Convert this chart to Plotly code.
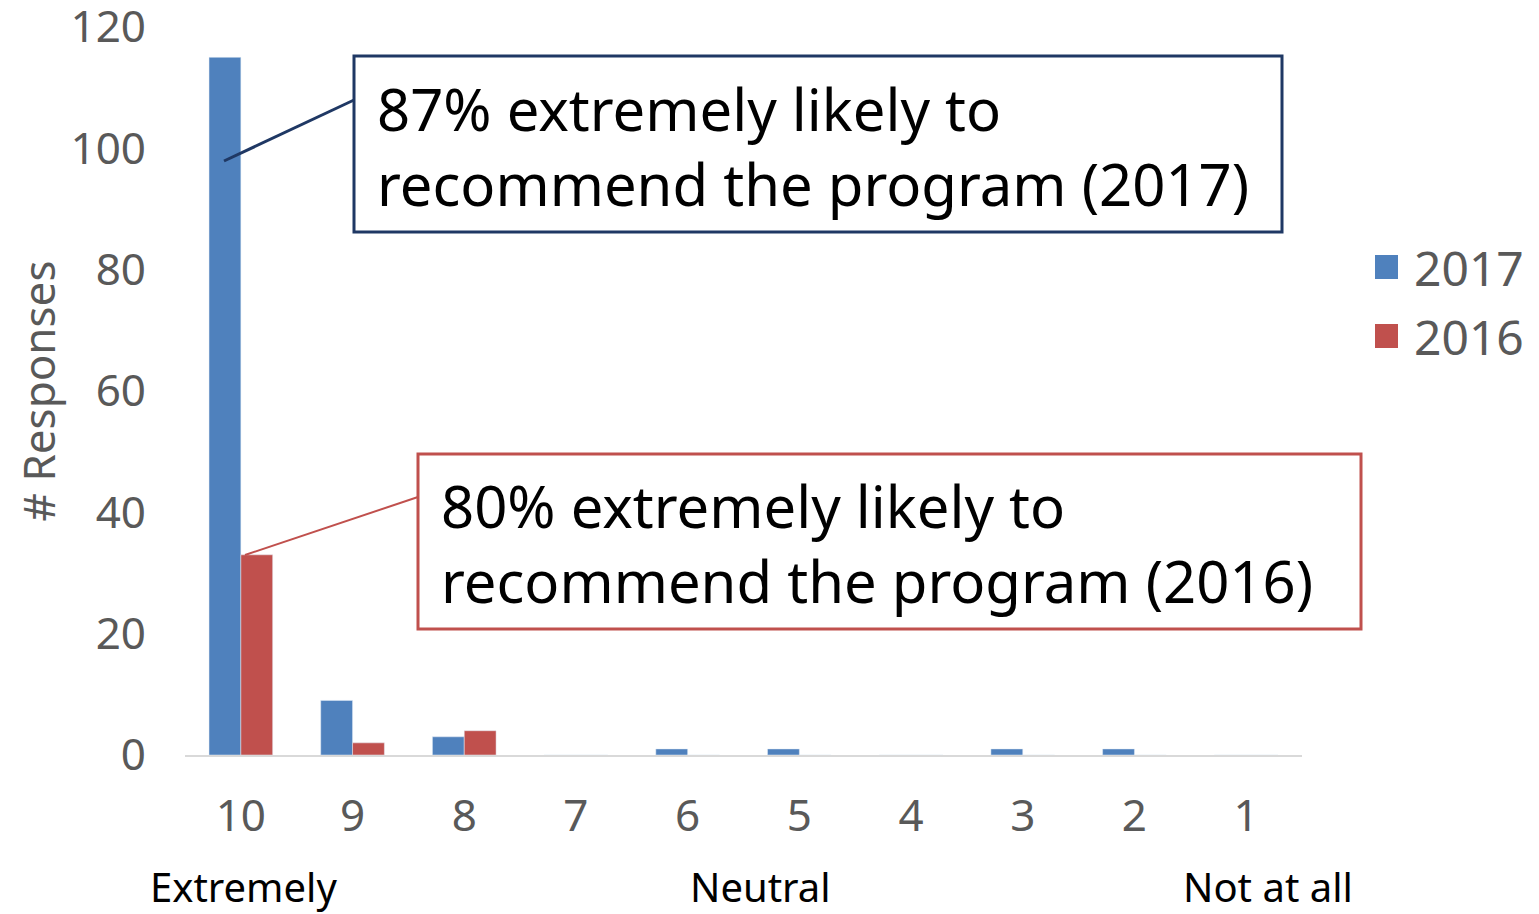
import plotly.graph_objects as go

# scores from "extremely likely" (10) to "not at all" (1)
scores = ["10", "9", "8", "7", "6", "5", "4", "3", "2", "1"]
resp_2017 = [115, 9, 3, 0, 1, 1, 0, 1, 1, 0]
resp_2016 = [33, 2, 4, 0, 0, 0, 0, 0, 0, 0]
y_ticks = [0, 20, 40, 60, 80, 100, 120]
series = [("2017", resp_2017, "#4F81BD"), ("2016", resp_2016, "#C0504D")]

grey = "#595959"
navy = "#1F3864"
font = "Noto Sans"

# the page puts the figure 8px in from the corner
OFF = 8
FW, FH = 1539 - OFF, 914 - OFF
# plot area in screen pixels
L, R, T, B = 185 - OFF, 1302 - OFF, 27 - OFF, 755 - OFF
W, H = R - L, B - T


def px(x):
    return (x - OFF - L) / W


def py(y):
    return (B - (y - OFF)) / H


xs = list(range(len(scores)))

fig = go.Figure()
for name, vals, col in series:
    fig.add_trace(go.Bar(x=xs, y=vals, name=name, marker_color=col, showlegend=False))

# callout boxes
fig.add_shape(type="rect", xref="paper", yref="paper",
              x0=px(354), x1=px(1282), y0=py(232), y1=py(56),
              line=dict(color=navy, width=3), fillcolor="white")
fig.add_shape(type="line", xref="paper", yref="paper",
              x0=px(224), y0=py(161), x1=px(354), y1=py(100),
              line=dict(color=navy, width=3))
fig.add_annotation(x=px(375), y=py(146), xref="paper", yref="paper",
                   xanchor="left", yanchor="middle",
                   text="87% extremely likely to<br>recommend the program (2017)",
                   showarrow=False, align="left",
                   font=dict(family=font, size=58, color="black"))

fig.add_shape(type="rect", xref="paper", yref="paper",
              x0=px(418), x1=px(1361), y0=py(629), y1=py(454),
              line=dict(color="#C0504D", width=3), fillcolor="white")
fig.add_shape(type="line", xref="paper", yref="paper",
              x0=px(245), y0=py(555), x1=px(418), y1=py(497),
              line=dict(color="#C0504D", width=2))
fig.add_annotation(x=px(439), y=py(543), xref="paper", yref="paper",
                   xanchor="left", yanchor="middle",
                   text="80% extremely likely to<br>recommend the program (2016)",
                   showarrow=False, align="left",
                   font=dict(family=font, size=58, color="black"))

# scale end labels
for lbl, xc in [("Extremely", 243), ("Neutral", 760), ("Not at all", 1268)]:
    fig.add_annotation(x=px(xc), y=py(886), xref="paper", yref="paper",
                       text=lbl, showarrow=False, xanchor="center", yanchor="middle",
                       font=dict(family=font, size=40, color="black"))

# legend drawn by hand so the swatches are large
for i, (name, vals, col) in enumerate(series):
    yc = 267 + i * 69
    fig.add_shape(type="rect", xref="paper", yref="paper",
                  x0=px(1375), x1=px(1398), y0=py(yc + 12), y1=py(yc - 12),
                  line=dict(width=0), fillcolor=col)
    fig.add_annotation(x=px(1412), y=py(yc), xref="paper", yref="paper",
                       xanchor="left", yanchor="middle", text=name, showarrow=False,
                       font=dict(family=font, size=48, color=grey))

fig.update_layout(
    width=FW, height=FH,
    margin=dict(l=L, r=FW - R, t=T, b=FH - B, autoexpand=False),
    plot_bgcolor="white", paper_bgcolor="white",
    barmode="group", bargap=0.43, bargroupgap=0,
    font=dict(family=font, color=grey),
    showlegend=False,
    xaxis=dict(tickmode="array", tickvals=xs, ticktext=scores,
               range=[-0.5, 9.5], showgrid=False, showline=True,
               linecolor="#D9D9D9", linewidth=2, ticks="", automargin=False,
               tickfont=dict(size=44, color=grey), ticklabelstandoff=21),
    yaxis=dict(range=[0, 120], tickvals=y_ticks, showgrid=False,
               zeroline=False, showline=False, ticks="", automargin=False,
               ticklabeloverflow="allow",
               tickfont=dict(size=44, color=grey), ticklabelstandoff=38,
               title=dict(text="# Responses", font=dict(size=44, color=grey),
                          standoff=18)),
)

fig.write_html("out.html")
